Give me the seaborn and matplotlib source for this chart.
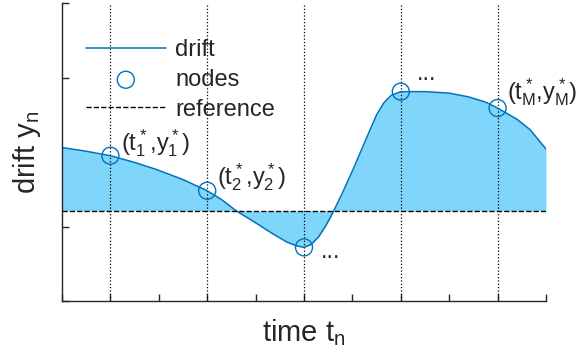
import numpy as np
import pandas as pd
import matplotlib
matplotlib.use('Agg')
import matplotlib.pyplot as plt
import seaborn as sns

sns.set_style('ticks')
plt.rcParams['font.family'] = ['Liberation Sans', 'DejaVu Sans']
plt.rcParams['mathtext.fontset'] = 'custom'
plt.rcParams['mathtext.rm'] = 'Liberation Sans'
plt.rcParams['mathtext.it'] = 'Liberation Sans'
plt.rcParams['mathtext.bf'] = 'Liberation Sans:bold'

# drift curve
t_curve = [0, 0.5, 1, 1.5, 1.93, 2.5, 3, 3.3, 3.6, 4.0, 4.36, 4.65, 4.85, 5, 5.15, 5.3, 5.45,
           5.6, 5.8, 6.01, 6.3, 6.5, 6.65, 6.8, 7, 7.5, 8, 8.4, 8.75, 9, 9.4, 9.67, 10]
y_curve = [2.06, 2.01, 1.95, 1.86, 1.77, 1.63, 1.48, 1.36, 1.21, 1.05, 0.90, 0.79, 0.74, 0.72,
           0.76, 0.86, 1.01, 1.19, 1.46, 1.76, 2.20, 2.50, 2.66, 2.76, 2.81, 2.81, 2.79, 2.74,
           2.67, 2.59, 2.44, 2.30, 2.04]

# nodes
t_nodes = [1, 3, 5, 7, 9]
y_nodes = [1.95, 1.48, 0.72, 2.81, 2.59]

y_ref = 1.21

blue = '#0072bd'
fill = '#80d6fa'

df = pd.DataFrame({'t': t_curve, 'y': y_curve})
nodes = pd.DataFrame({'t': t_nodes, 'y': y_nodes})

fig = plt.figure(figsize=(5.85, 3.6), dpi=100)
ax = fig.add_axes([62/585, 1 - 301/360, 484/585, 298/360])

ax.fill_between(df['t'], df['y'], y_ref, color=fill, lw=0)
for tn in t_nodes:
    ax.axvline(tn, color='black', ls=':', lw=0.9)
sns.lineplot(data=df, x='t', y='y', color=blue, lw=1.1, ax=ax, label='drift')
sns.scatterplot(data=nodes, x='t', y='y', ax=ax, s=150, facecolors='none',
                edgecolor=blue, linewidth=1, label='nodes', zorder=5)
ax.axhline(y_ref, color='black', ls='--', lw=1, label='reference')

fs = 17
ax.text(1.22, 2.12, r'$(t^*_1{,}y^*_1)$', fontsize=fs, va='center', ha='left')
ax.text(3.2, 1.66, r'$(t^*_2{,}y^*_2)$', fontsize=fs, va='center', ha='left')
ax.text(9.2, 2.81, r'$(t^*_M{,}y^*_M)$', fontsize=fs, va='center', ha='left', clip_on=False)
ax.text(5.54, 0.58, '...', fontsize=fs, va='baseline', ha='center')
ax.text(7.54, 2.96, '...', fontsize=fs, va='baseline', ha='center')

ax.set_xlim(0, 10)
ax.set_ylim(0, 4)
ax.set_xticks(np.arange(0, 11, 1))
ax.set_yticks(np.arange(0, 5, 1))
ax.set_xticklabels([])
ax.set_yticklabels([])
ax.tick_params(direction='in', length=5, width=1, colors='#262626')
for s in ['left', 'bottom']:
    ax.spines[s].set_color('#262626')
    ax.spines[s].set_linewidth(1)
sns.despine(ax=ax)

ax.set_xlabel(r'time $t_n$', fontsize=21, labelpad=8, color='#262626')
ax.set_ylabel(r'drift $y_n$', fontsize=21, labelpad=10, color='#262626')

leg = ax.legend(loc='upper left', bbox_to_anchor=(0.005, 0.95), frameon=False,
                fontsize=fs, handlelength=3.4, handletextpad=0.4, labelspacing=0.33)

fig.savefig('out.png', dpi=100)
